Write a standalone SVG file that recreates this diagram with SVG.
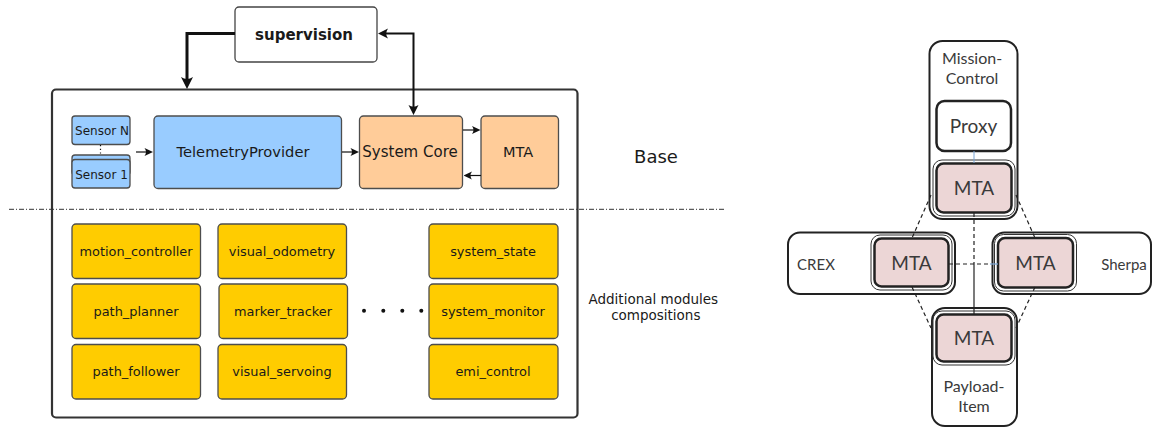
<svg xmlns="http://www.w3.org/2000/svg" width="1153" height="428" viewBox="0 0 1153 428">
<style>
.l{font-family:"DejaVu Sans","Liberation Sans",sans-serif;fill:#1a1a1a;text-anchor:middle}
.y{font-size:12.9px}
.r{font-family:Lato,"Open Sans","Liberation Sans",sans-serif;fill:#3a3a3a;text-anchor:middle}
.blue{fill:#99CCFF;stroke:#4d4d4d;stroke-width:1.3}
.orange{fill:#FFCC99;stroke:#4d4d4d;stroke-width:1.3}
.yellow{fill:#FFCC00;stroke:#4d4d4d;stroke-width:1.3}
.cont{fill:#fff;stroke:#222;stroke-width:2}
.mta{fill:#ECD6D6;stroke:#222;stroke-width:2.5}
.ring{fill:none;stroke:#333;stroke-width:1}
.dash{fill:none;stroke:#222;stroke-width:1.2;stroke-dasharray:4,3}
.thin{fill:none;stroke:#111;stroke-width:1.2}
</style>
<defs>
<marker id="aS" viewBox="-9 -5 9 10" refX="-3" refY="0" markerWidth="9" markerHeight="10" markerUnits="userSpaceOnUse" orient="auto-start-reverse"><path d="M0,0 L-8.5,-4 Q-5.5,0 -8.5,4 Z" fill="#111"/></marker>
<marker id="aM" viewBox="-11 -6 11 12" refX="-5" refY="0" markerWidth="11" markerHeight="12" markerUnits="userSpaceOnUse" orient="auto-start-reverse"><path d="M0,0 L-10,-5 Q-6.5,0 -10,5 Z" fill="#111"/></marker>
<marker id="aB" viewBox="-13 -7 13 14" refX="-6" refY="0" markerWidth="13" markerHeight="14" markerUnits="userSpaceOnUse" orient="auto-start-reverse"><path d="M0,0 L-12,-6 Q-8,0 -12,6 Z" fill="#111"/></marker>
</defs>

<g id="base-container"><rect x="52" y="89.5" width="525.5" height="328" rx="4" fill="#fff" stroke="#333" stroke-width="2.2"/></g>

<g id="separator"><line x1="9" y1="209.3" x2="724" y2="209.3" stroke="#333" stroke-width="1" stroke-dasharray="5,2,1,2"/></g>

<g id="supervision"><rect x="235" y="7" width="142" height="55" rx="4" fill="#fff" stroke="#444" stroke-width="1.3"/><text class="l" x="304" y="39.5" font-size="15" font-weight="bold">supervision</text></g>

<g id="sensorN"><rect class="blue" x="72" y="116" width="58" height="28.5" rx="3"/><text class="l" x="102" y="135" font-size="12">Sensor N</text></g>
<g id="sensor1"><rect class="blue" x="72" y="155" width="58" height="20" rx="3"/><rect class="blue" x="72" y="159.5" width="58" height="28.5" rx="3"/><text class="l" x="101.5" y="178.5" font-size="12">Sensor 1</text></g>
<g id="telemetry"><rect class="blue" x="154" y="116" width="187.5" height="72.5" rx="4"/><text class="l" x="243" y="157" font-size="14.7">TelemetryProvider</text></g>
<g id="systemcore"><rect class="orange" x="359.5" y="116" width="103" height="72.5" rx="4"/><text class="l" x="410" y="157" font-size="15">System Core</text></g>
<g id="mta-base"><rect class="orange" x="481" y="116" width="77.5" height="72.5" rx="4"/><text class="l" x="518" y="157" font-size="14.5">MTA</text></g>
<g id="base-label"><text class="l" x="656" y="163" font-size="18">Base</text></g>

<g id="motion_controller"><rect class="yellow" x="72" y="224" width="128.5" height="54.5" rx="4"/><text class="l y" x="136" y="255.5">motion_controller</text></g>
<g id="path_planner"><rect class="yellow" x="72" y="284" width="128.5" height="54.5" rx="4"/><text class="l y" x="136" y="315.5">path_planner</text></g>
<g id="path_follower"><rect class="yellow" x="72" y="344.5" width="128.5" height="54.5" rx="4"/><text class="l y" x="136" y="376">path_follower</text></g>
<g id="visual_odometry"><rect class="yellow" x="218" y="224" width="128.5" height="54.5" rx="4"/><text class="l y" x="282" y="255.5">visual_odometry</text></g>
<g id="marker_tracker"><rect class="yellow" x="219" y="284" width="128.5" height="54.5" rx="4"/><text class="l y" x="283" y="315.5">marker_tracker</text></g>
<g id="visual_servoing"><rect class="yellow" x="218" y="344.5" width="128.5" height="54.5" rx="4"/><text class="l y" x="282" y="376">visual_servoing</text></g>
<g id="system_state"><rect class="yellow" x="429" y="224" width="129" height="54.5" rx="4"/><text class="l y" x="493" y="255.5">system_state</text></g>
<g id="system_monitor"><rect class="yellow" x="429" y="284" width="129" height="54.5" rx="4"/><text class="l y" x="493" y="315.5">system_monitor</text></g>
<g id="emi_control"><rect class="yellow" x="429" y="344.5" width="129" height="54.5" rx="4"/><text class="l y" x="493" y="376">emi_control</text></g>
<g id="ellipsis" fill="#111"><circle cx="364" cy="310.7" r="2"/><circle cx="383.3" cy="310.7" r="2"/><circle cx="402.3" cy="310.7" r="2"/><circle cx="421.3" cy="310.7" r="2"/></g>
<g id="modules-label"><text class="l" x="653.3" y="304" font-size="13.5">Additional modules</text><text class="l" x="655.8" y="320" font-size="13.5">compositions</text></g>

<g id="mission-control"><rect class="cont" x="929.5" y="41" width="88" height="178" rx="13"/><text class="r" x="972" y="63.5" font-size="16">Mission-</text><text class="r" x="972" y="84" font-size="16">Control</text></g>
<g id="proxy"><rect x="936.5" y="101" width="74.5" height="50" rx="8" fill="#fff" stroke="#222" stroke-width="2.5"/><text class="r" x="973.5" y="133" font-size="19">Proxy</text></g>
<g id="crex"><rect class="cont" x="788" y="232.5" width="167" height="61.5" rx="12"/><text class="r" x="816" y="269.5" font-size="15">CREX</text></g>
<g id="sherpa"><rect class="cont" x="992.5" y="232.5" width="158.5" height="61.5" rx="12"/><text class="r" x="1124" y="269.5" font-size="15">Sherpa</text></g>
<g id="payload-item"><rect class="cont" x="932" y="308" width="85" height="118" rx="13"/><text class="r" x="974" y="391.5" font-size="16">Payload-</text><text class="r" x="974" y="411.5" font-size="16">Item</text></g>

<g id="mta-mission"><rect class="ring" x="933" y="160" width="82" height="56" rx="9"/><rect class="mta" x="936.5" y="163.5" width="75" height="49" rx="7"/><text class="r" x="974" y="194.5" font-size="19">MTA</text></g>
<g id="mta-crex"><rect class="ring" x="871" y="235" width="81" height="55" rx="9"/><rect class="mta" x="874.5" y="238.5" width="74" height="48" rx="7"/><text class="r" x="911.5" y="270" font-size="19">MTA</text></g>
<g id="mta-sherpa"><rect class="ring" x="994.5" y="234.5" width="82" height="56.5" rx="9"/><rect class="mta" x="998" y="238" width="75" height="49.5" rx="7"/><text class="r" x="1035.5" y="270" font-size="19">MTA</text></g>
<g id="mta-payload"><rect class="ring" x="933" y="311" width="82" height="54" rx="9"/><rect class="mta" x="936.5" y="314.5" width="75" height="47" rx="7"/><text class="r" x="974" y="345" font-size="19">MTA</text></g>

<g id="connectors">
<path d="M235 33.5 H187 V83" fill="none" stroke="#111" stroke-width="3" marker-end="url(#aB)"/>
<path d="M383 33.5 H413.5 V110" fill="none" stroke="#111" stroke-width="2" marker-start="url(#aM)" marker-end="url(#aM)"/>
<line x1="100.5" y1="145" x2="100.5" y2="155" stroke="#111" stroke-width="1.2" stroke-dasharray="1.2,2.5"/>
<line class="thin" x1="136" y1="152" x2="150" y2="152" marker-end="url(#aS)"/>
<line class="thin" x1="342" y1="152" x2="356" y2="152" marker-end="url(#aS)"/>
<line class="thin" x1="463" y1="130" x2="477.5" y2="130" marker-end="url(#aS)"/>
<line class="thin" x1="481" y1="175.5" x2="466.5" y2="175.5" marker-end="url(#aS)"/>
<line x1="974" y1="151" x2="974" y2="163" stroke="#7aa6d6" stroke-width="1"/>
<line class="dash" x1="931" y1="195" x2="912" y2="238"/>
<line class="dash" x1="1016" y1="195" x2="1035" y2="238"/>
<line class="dash" x1="912" y1="287" x2="931" y2="328"/>
<line class="dash" x1="1035" y1="287" x2="1016" y2="328"/>
<line class="dash" x1="974" y1="213" x2="974" y2="264"/>
<line x1="974" y1="264" x2="974" y2="314" stroke="#222" stroke-width="1.2"/>
<line class="dash" x1="949" y1="264" x2="990" y2="264"/>
<line x1="990" y1="264" x2="998" y2="264" stroke="#7aa6d6" stroke-width="1.2"/>
</g>
</svg>
